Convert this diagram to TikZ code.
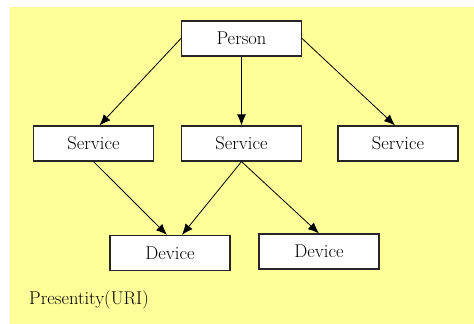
\documentclass[tikz,border=0pt]{standalone}
\usepackage{xcolor}
\usetikzlibrary{arrows.meta,positioning,calc}
\definecolor{bgyellow}{RGB}{255,255,153}

\begin{document}
\begin{tikzpicture}[
  x=1pt,
  y=-1pt,
  >={Latex[length=11pt,width=9pt]},
  flow/.style={->,line width=.8pt},
  entity/.style={draw=black!85,line width=1.2pt,fill=white,minimum width=120pt,
    minimum height=35pt,inner sep=0pt,font=\fontsize{18.5}{21}\selectfont},
  caption/.style={anchor=west,inner sep=0pt,font=\fontsize{18.5}{21}\selectfont}
]
\useasboundingbox (0,0) rectangle (474,324);
\fill[bgyellow] (10,7) rectangle (474,324);

\node[entity] (person) at (241.5,38.5) {Person};

\node[entity] (svcleft) at (93.5,143.5) {Service};
\node[entity] (svcmid) at (241.5,143.5) {Service};
\node[entity] (svcright) at (398,143.5) {Service};

\node[entity] (devleft) at (170,253) {Device};
\node[entity] (devright) at (319,251.5) {Device};

\node[caption] (presentity) at (29,300) {Presentity(URI)};

\draw[flow] (person.west) -- ([xshift=6pt]svcleft.north);
\draw[flow] (person.south) -- (svcmid.north);
\draw[flow] (person.east) -- ([xshift=-3pt]svcright.north);
\draw[flow] (svcleft.south) -- ([xshift=-3pt]devleft.north);
\draw[flow] (svcmid.south) -- ([xshift=12pt]devleft.north);
\draw[flow] (svcmid.south) -- (devright.north);

\end{tikzpicture}
\end{document}
